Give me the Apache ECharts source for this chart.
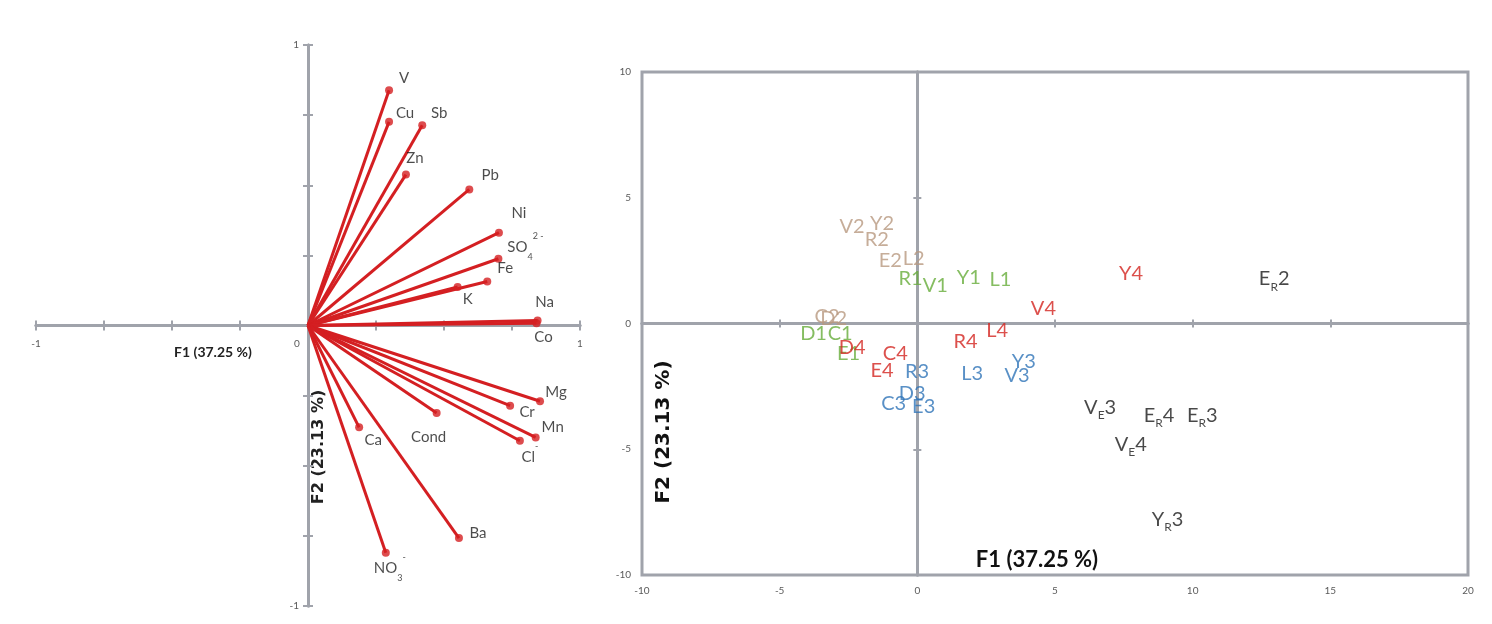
<!DOCTYPE html>
<html><head><meta charset="utf-8">
<script src="https://cdn.jsdelivr.net/npm/echarts@6/dist/echarts.min.js"></script>
<style>html,body{margin:0;padding:0;background:#fff}#c{width:1492px;height:624px}</style>
</head><body><div id="c"></div>
<script>
// ---- Loadings (left panel) ----
const loadVars = ['V','Cu','Sb','Zn','Pb','Ni','SO4','Fe','K','Na','Co','Mg','Cr','Mn','Cl','Cond','Ca','Ba','NO3'];
const loadF1 = [0.298,0.298,0.42,0.36,0.593,0.702,0.70,0.659,0.55,0.844,0.84,0.853,0.743,0.837,0.779,0.473,0.188,0.555,0.286];
const loadF2 = [0.839,0.726,0.714,0.538,0.485,0.331,0.238,0.157,0.137,0.018,0.008,-0.270,-0.286,-0.399,-0.411,-0.312,-0.363,-0.758,-0.81];
const loadTicks = [-1, 0, 1];

// ---- Scores (right panel) ----
const g1Names = ['R1','V1','Y1','L1','D1','C1','E1'];
const g1F1 = [-0.25,0.65,1.87,3.02,-3.77,-2.8,-2.5];
const g1F2 = [1.77,1.51,1.81,1.73,-0.41,-0.41,-1.2];
const g2Names = ['V2','Y2','R2','E2','L2','C2','D2'];
const g2F1 = [-2.37,-1.28,-1.47,-0.98,-0.13,-3.28,-3.04];
const g2F2 = [3.85,3.96,3.32,2.5,2.57,0.28,0.18];
const g3Names = ['R3','L3','Y3','V3','C3','D3','E3'];
const g3F1 = [-0.01,1.99,3.87,3.62,-0.86,-0.19,0.23];
const g3F2 = [-1.93,-2.0,-1.53,-2.06,-3.19,-2.79,-3.32];
const g4Names = ['V4','L4','R4','D4','C4','E4','Y4'];
const g4F1 = [4.58,2.9,1.75,-2.37,-0.8,-1.28,7.76];
const g4F2 = [0.6,-0.28,-0.7,-0.94,-1.2,-1.87,1.98];
const g5Names = ['E_R2','V_E3','E_R4','E_R3','V_E4','Y_R3'];
const g5F1 = [12.96,6.64,8.78,10.35,7.75,9.09];
const g5F2 = [1.7,-3.42,-3.72,-3.72,-4.88,-7.86];
const scoreXTicks = [-10,-5,0,5,10,15,20];
const scoreYTicks = [-10,-5,0,5,10];

// ---- styles ----
const FONT = 'Lato, "Open Sans", sans-serif';
const FONT2 = '"DejaVu Sans", "Open Sans", sans-serif';
const RED = '#d41f22';
const AX = '#a0a3ab';
const TICKC = '#5a5a5a';
const LBL = '#1e1e1e';
const leftLabelOffset = {
  V:[15,-12], Cu:[16,-9], Sb:[17,-12], Zn:[9,-16], Pb:[21,-14], Ni:[20,-19], SO4:[27,-12], Fe:[18,-13],
  K:[10,12], Na:[7,-18], Co:[7,14], Mg:[16,-9], Cr:[17,6], Mn:[17,-10], Cl:[10,12], Cond:[-8,24],
  Ca:[14,13], Ba:[19,-5], NO3:[4,15]
};
const leftRich = {
  SO4: '{n|SO}{sub|4}{sup|2 -}',
  Cl: '{n|Cl}{sup|-}',
  NO3: '{n|NO}{sub|3}{sup|-}'
};

const chart = echarts.init(document.getElementById('c'), null, {renderer:'canvas'});

function scoreSeries(names, xs, ys, color, rich) {
  return {
    type:'scatter', xAxisIndex:2, yAxisIndex:2, symbolSize:2, silent:true,
    itemStyle:{color:'rgba(0,0,0,0)'},
    data: names.map((n,i)=>({name:n, value:[xs[i], ys[i]]})),
    label:{
      show:true, position:'inside', color:color, fontSize:20, fontFamily:FONT,
      formatter: rich ? (p => p.name.replace(/^(\w)_(\w)(\d)$/, '{m|$1}{s|$2}{m|$3}')) : '{b}',
      rich: rich ? {
        m:{fontSize:20, fontFamily:FONT, color:color, verticalAlign:'top'},
        s:{fontSize:12, fontFamily:FONT, color:color, verticalAlign:'top', padding:[12,0,0,0]}
      } : undefined
    }
  };
}

const zeroLine = (idx) => ({show:true, onZero:true, onZeroAxisIndex:idx, lineStyle:{color:AX, width:3}});
const hiddenAxis = (g, mn, mx) => ({gridIndex:g, type:'value', min:mn, max:mx, show:false});

const option = {
  animation:false,
  backgroundColor:'#ffffff',
  grid:[
    {left:36, top:45, width:544, height:561, show:false},
    {left:642, top:72, width:826, height:503, show:true, borderColor:AX, borderWidth:3, backgroundColor:'rgba(0,0,0,0)'},
    {left:36, top:45, width:544, height:280, show:false},
    {left:308, top:45, width:272, height:561, show:false}
  ],
  xAxis:[
    {gridIndex:0, type:'value', min:-1, max:1, interval:0.25, position:'bottom',
     axisLine:zeroLine(0), axisTick:{show:true, length:5, lineStyle:{color:AX, width:2}},
     splitLine:{show:false}, axisLabel:{show:false}},
    {gridIndex:0, type:'value', min:-1, max:1, interval:0.25, position:'top',
     axisLine:zeroLine(0), axisTick:{show:true, length:5, lineStyle:{color:AX, width:2}},
     splitLine:{show:false}, axisLabel:{show:false}},
    {gridIndex:1, type:'value', min:-10, max:20, interval:5, position:'bottom',
     axisLine:{show:false, onZero:false}, axisTick:{show:false}, splitLine:{show:false},
     axisLabel:{show:true, margin:11, fontSize:10, color:TICKC, fontFamily:FONT,
       formatter: v => (scoreXTicks.indexOf(v) >= 0 ? String(v) : '')}},
    {gridIndex:1, type:'value', min:-10, max:20, interval:5, position:'top',
     axisLine:zeroLine(2), axisTick:{show:true, length:4, lineStyle:{color:AX, width:2}},
     splitLine:{show:false}, axisLabel:{show:false}},
    {gridIndex:1, type:'value', min:-10, max:20, interval:5, position:'bottom',
     axisLine:zeroLine(2), axisTick:{show:true, length:4, lineStyle:{color:AX, width:2}},
     splitLine:{show:false}, axisLabel:{show:false}},
    {gridIndex:2, type:'value', min:-1, max:1, interval:1, position:'bottom',
     axisLine:{show:false, onZero:false}, axisTick:{show:false}, splitLine:{show:false},
     axisLabel:{show:true, margin:14, fontSize:10, color:TICKC, fontFamily:FONT,
       formatter: v => (v === 0 ? '{z|0}' : (loadTicks.indexOf(v) >= 0 ? String(v) : '')),
       rich:{z:{fontSize:10, color:TICKC, fontFamily:FONT, padding:[0,22,0,0]}}}},
    hiddenAxis(3, 0, 1)
  ],
  yAxis:[
    {gridIndex:0, type:'value', min:-1, max:1, interval:0.25, position:'left',
     axisLine:zeroLine(0), axisTick:{show:true, length:5, lineStyle:{color:AX, width:2}},
     splitLine:{show:false}, axisLabel:{show:false}},
    {gridIndex:0, type:'value', min:-1, max:1, interval:0.25, position:'right',
     axisLine:zeroLine(0), axisTick:{show:true, length:5, lineStyle:{color:AX, width:2}},
     splitLine:{show:false}, axisLabel:{show:false}},
    {gridIndex:1, type:'value', min:-10, max:10, interval:5, position:'left',
     axisLine:{show:false, onZero:false}, axisTick:{show:false}, splitLine:{show:false},
     axisLabel:{show:true, margin:11, fontSize:10, color:TICKC, fontFamily:FONT,
       formatter: v => (scoreYTicks.indexOf(v) >= 0 ? String(v) : '')}},
    {gridIndex:1, type:'value', min:-10, max:10, interval:5, position:'left',
     axisLine:zeroLine(2), axisTick:{show:true, length:4, lineStyle:{color:AX, width:2}},
     splitLine:{show:false}, axisLabel:{show:false}},
    {gridIndex:1, type:'value', min:-10, max:10, interval:5, position:'right',
     axisLine:zeroLine(2), axisTick:{show:true, length:4, lineStyle:{color:AX, width:2}},
     splitLine:{show:false}, axisLabel:{show:false}},
    hiddenAxis(2, 0, 1),
    {gridIndex:3, type:'value', min:-1, max:1, interval:1, position:'left',
     axisLine:{show:false, onZero:false}, axisTick:{show:false}, splitLine:{show:false},
     axisLabel:{show:true, margin:9, fontSize:10, color:TICKC, fontFamily:FONT,
       formatter: v => ((v === 1 || v === -1) ? String(v) : '')}}
  ],
  series:[
    {type:'lines', coordinateSystem:'cartesian2d', xAxisIndex:0, yAxisIndex:0, silent:true,
     lineStyle:{color:RED, width:3, opacity:1, curveness:0},
     data: loadVars.map((n,i)=>({coords:[[0,0],[loadF1[i], loadF2[i]]]}))},
    {type:'scatter', xAxisIndex:0, yAxisIndex:0, symbolSize:8, silent:true,
     itemStyle:{color:RED},
     data: loadVars.map((n,i)=>({name:n, value:[loadF1[i], loadF2[i]], label:{offset:leftLabelOffset[n]}})),
     label:{show:true, position:'inside', color:LBL, fontSize:15, fontFamily:FONT,
       formatter: p => leftRich[p.name] || ('{p|' + p.name + '}'),
       rich:{
         p:{fontSize:15, fontFamily:FONT, color:LBL},
         n:{fontSize:15, fontFamily:FONT, color:LBL, verticalAlign:'top', padding:[8,0,0,0]},
         sub:{fontSize:9, fontFamily:FONT, color:LBL, verticalAlign:'top', padding:[21,0,0,0]},
         sup:{fontSize:9, fontFamily:FONT, color:LBL, verticalAlign:'top'}
       }}},
    scoreSeries(g2Names, g2F1, g2F2, '#b8987f', false),
    scoreSeries(g1Names, g1F1, g1F2, '#66ac3a', false),
    scoreSeries(g4Names, g4F1, g4F2, '#d3241f', false),
    scoreSeries(g3Names, g3F1, g3F2, '#2f74b8', false),
    scoreSeries(g5Names, g5F1, g5F2, '#1a1a1a', true)
  ],
  graphic:[
    {type:'text', x:213, y:352, silent:true,
     style:{text:'F1 (37.25 %)', font:'bold 14px ' + FONT, fill:'#222', textAlign:'center', textVerticalAlign:'middle'}},
    {type:'text', x:319, y:447, rotation:Math.PI/2, silent:true,
     style:{text:'F2 (23.13 %)', font:'bold 16px ' + FONT2, fill:'#222', textAlign:'center', textVerticalAlign:'middle'}},
    {type:'text', x:1037, y:560, silent:true,
     style:{text:'F1 (37.25 %)', font:'bold 22px ' + FONT, fill:'#111', textAlign:'center', textVerticalAlign:'middle'}},
    {type:'text', x:664, y:432, rotation:Math.PI/2, silent:true,
     style:{text:'F2 (23.13 %)', font:'bold 20px ' + FONT2, fill:'#111', textAlign:'center', textVerticalAlign:'middle'}}
  ]
};
chart.setOption(option);
</script>
</body></html>
